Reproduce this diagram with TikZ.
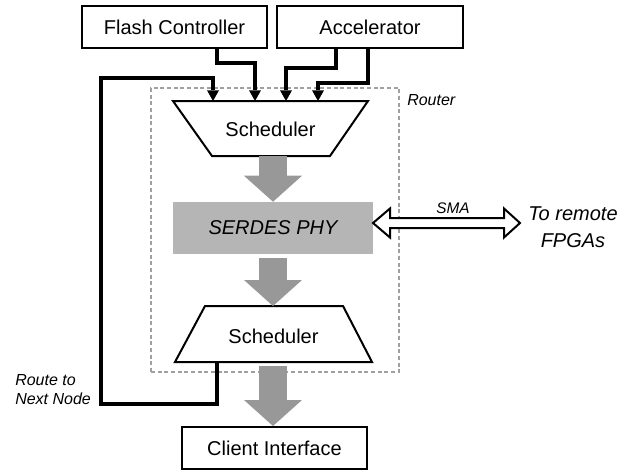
\documentclass[tikz,border=0pt]{standalone}
\usepackage{fontspec}
\setmainfont{Liberation Sans}
\usetikzlibrary{arrows.meta}
\definecolor{flowgray}{RGB}{152,152,152}
\definecolor{phygray}{RGB}{181,181,181}
\definecolor{dashgray}{RGB}{160,160,160}
\tikzset{
  blk/.style={draw,line width=1.5pt,fill=white,inner sep=0pt,font=\fontsize{15}{18}\selectfont},
  schedline/.style={draw,line width=1.5pt,fill=white},
  txt/.style={inner sep=0pt,font=\fontsize{15}{18}\selectfont},
  wire/.style={line width=3pt,-{Triangle[length=8pt,width=9pt,line width=0pt]}},
  fatflow/.style={draw=flowgray,line width=21pt,-{Triangle[length=19.5pt,width=43.5pt,line width=0pt]}},
  lbl/.style={inner sep=0pt,align=left,font=\fontsize{12}{14.25}\selectfont\itshape}
}
\begin{document}
\begin{tikzpicture}[x=0.75pt,y=0.75pt,yscale=-1,xscale=1]
    \useasboundingbox (0,0) rectangle (633,471);
    % Router frame
    \node[draw=dashgray,line width=1.1pt,dash pattern=on 3pt off 2pt,minimum width=186pt,minimum height=213pt] (router) at (275,230) {};
    \node[lbl,anchor=west] (routerlbl) at (407,100) {Router};
    % Boxes
    \node[blk,minimum width=138.75pt,minimum height=31.5pt] (flash) at (174.5,27) {Flash Controller};
    \node[blk,minimum width=139.5pt,minimum height=31.5pt] (accel) at (370,27) {Accelerator};
    \node[blk,minimum width=138.75pt,minimum height=31.5pt] (client) at (274.5,448) {Client Interface};
    \node[fill=phygray,minimum width=150pt,minimum height=39pt,inner sep=0pt,font=\fontsize{15}{18}\selectfont\itshape] (serdes) at (273,228) {SERDES PHY};
    % Schedulers
    \draw[schedline] (173,101) -- (368,101) -- (330,156) -- (212,156) -- cycle;
    \node[txt] (schedin) at (270.5,129.5) {Scheduler};
    \coordinate (schedinB) at (273,156);
    \draw[schedline] (205,306) -- (343,306) -- (372,362) -- (175,362) -- cycle;
    \node[txt] (schedout) at (273.5,336) {Scheduler};
    \coordinate (schedoutT) at (273,306);
    \coordinate (schedoutB) at (273,362);
    % Data path
    \draw[fatflow] (schedinB) -- (serdes.north);
    \draw[fatflow,shorten <=3pt] (serdes.south) -- (schedoutT);
    \draw[fatflow,shorten <=3pt] (schedoutB) -- (serdes.south |- client.north);
    % Inputs of the first scheduler
    \coordinate (in1) at (213,101);
    \coordinate (in2) at (255,101);
    \coordinate (in3) at (286,101);
    \coordinate (in4) at (318,101);
    \coordinate (fl1) at (217,0);
    \coordinate (ac1) at (336,0);
    \coordinate (ac2) at (368,0);
    \coordinate (out1) at (217,362);
    \draw[wire] (flash.south -| fl1) -- ++(0,14) -| (in2);
    \draw[wire] (accel.south -| ac1) -- ++(0,19) -| (in3);
    \draw[wire] (accel.south -| ac2) -- ++(0,34) -| (in4);
    \draw[wire] (out1) |- (101,404) -- (101,78) -| (in1);
    \node[lbl,anchor=west] (routelbl) at (15,389.5) {Route to\\Next Node};
    % SMA link
    \coordinate (smaL) at (373,223);
    \draw[line width=1.5pt,fill=white,shift={(smaL)}] (0,0) -- (17,-14.5) -- (17,-5) -- (131,-5) -- (131,-14.5) -- (147,0) -- (131,14.5) -- (131,5) -- (17,5) -- (17,14.5) -- cycle;
    \node[inner sep=0pt,font=\fontsize{11.5}{14}\selectfont\itshape] (smalbl) at (453,208) {SMA};
    \node[inner sep=0pt,align=center,font=\fontsize{15}{20}\selectfont\itshape] (remote) at (573,227) {To remote\\FPGAs};
\end{tikzpicture}
\end{document}
